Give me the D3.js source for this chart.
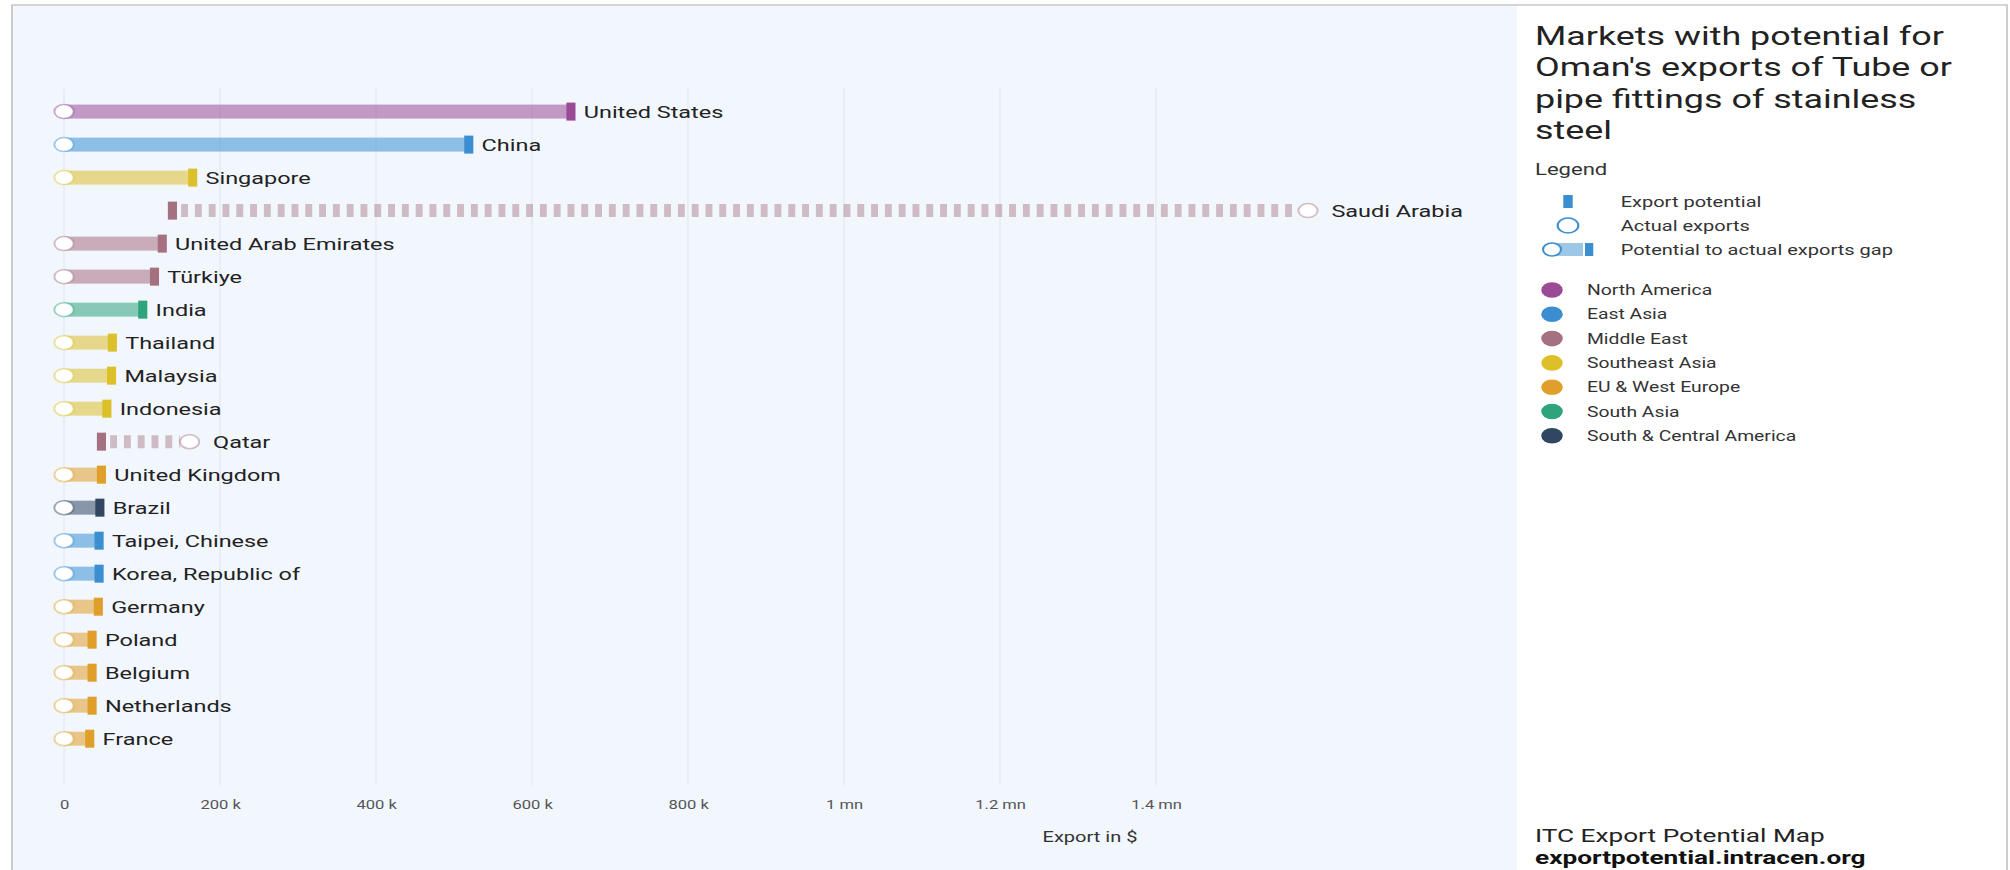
<!DOCTYPE html>
<html><head><meta charset="utf-8">
<script src="https://cdn.jsdelivr.net/npm/d3@7"></script>
<style>html,body{margin:0;padding:0;background:#fff;overflow:hidden} svg{display:block} text{font-family:Roboto, "Noto Sans", sans-serif}</style>
</head><body>
<svg id="chart" width="2010" height="870"></svg>
<script>
// ---- data ----
const countries = ["United States","China","Singapore","Saudi Arabia","United Arab Emirates","Türkiye","India","Thailand","Malaysia","Indonesia","Qatar","United Kingdom","Brazil","Taipei, Chinese","Korea, Republic of","Germany","Poland","Belgium","Netherlands","France"];
const countryRegions = ["North America","East Asia","Southeast Asia","Middle East","Middle East","Middle East","South Asia","Southeast Asia","Southeast Asia","Southeast Asia","Middle East","EU & West Europe","South & Central America","East Asia","East Asia","EU & West Europe","EU & West Europe","EU & West Europe","EU & West Europe","EU & West Europe"];
const potentialValues = [650000,519000,165000,139000,126000,116000,101000,62000,61000,55000,48000,48000,46000,45000,45000,44000,36000,36000,36000,33000];
const actualValues = [0,0,0,1595000,0,0,0,0,0,0,161000,0,0,0,0,0,0,0,0,0];
const regionNames = ["North America","East Asia","Middle East","Southeast Asia","EU & West Europe","South Asia","South & Central America"];
const regionColors = ["#9b4a96","#3b8fd0","#a5707f","#dcc02a","#e09f2a","#2ea47a","#2f4761"];
const tickValues = [0,200000,400000,600000,800000,1000000,1200000,1400000];
const tickLabels = ["0","200 k","400 k","600 k","800 k","1 mn","1.2 mn","1.4 mn"];
const titleLines = ["Markets with potential for","Oman's exports of Tube or","pipe fittings of stainless","steel"];
const legendItems = ["Export potential","Actual exports","Potential to actual exports gap"];

// ---- layout (inner coordinates; the page is stretched horizontally) ----
const S = 1.38, W = 2010 / S, H = 870;
const svg = d3.select("#chart").attr("viewBox", `0 0 ${W} ${H}`).attr("preserveAspectRatio", "none");
const color = d3.scaleOrdinal().domain(regionNames).range(regionColors);
const x = d3.scaleLinear().domain([0, d3.max(actualValues)]).range([64 / S, 1308 / S]);
const y = d3.scalePoint().domain(countries).range([111.6, 738.7]);

// backgrounds
svg.append("rect").attr("x", 12 / S).attr("y", 5).attr("width", (1517 - 12) / S).attr("height", H).attr("fill", "#f2f7fe");
svg.append("path").attr("d", `M${12 / S},${H} V5 H${2007 / S} V${H}`).attr("fill", "none").attr("stroke", "#c8c8c8").attr("stroke-width", 1.3);

// grid
const g = svg.append("g");
g.selectAll("line.grid").data(tickValues).join("line")
  .attr("x1", d => x(d)).attr("x2", d => x(d)).attr("y1", 88).attr("y2", 785)
  .attr("stroke", "#e2e7ee").attr("stroke-width", 0.8);

// axis labels
const axis = d3.axisBottom(x).tickValues(tickValues).tickFormat((d, i) => tickLabels[i]).tickSize(0);
const ax = svg.append("g").attr("transform", "translate(0,797)").call(axis);
ax.select(".domain").remove();
ax.selectAll("text").attr("font-size", 12).attr("fill", "#555").attr("font-family", "Roboto");
svg.append("text").attr("x", 1090 / S).attr("y", 842).attr("text-anchor", "middle")
  .attr("font-size", 14.5).attr("fill", "#333").text("Export in $");

// rows
const rows = countries.map((c, i) => ({ c, region: countryRegions[i], pot: potentialValues[i], act: actualValues[i] }));
const mw = 6.6, mh = 18, bh = 14, cr = 7;
rows.forEach(d => {
  const col = color(d.region);
  const yy = y(d.c);
  const row = g.append("g");
  const xp = x(d.pot), xa = x(d.act);
  if (d.act <= d.pot) {
    row.append("rect").attr("x", xa).attr("y", yy - bh / 2).attr("width", xp - xa).attr("height", bh)
      .attr("fill", col).attr("fill-opacity", 0.55);
  } else {
    row.append("line").attr("x1", xp + mw / 2 + 3).attr("x2", xa - cr).attr("y1", yy).attr("y2", yy)
      .attr("stroke", col).attr("stroke-opacity", 0.45).attr("stroke-width", 13).attr("stroke-dasharray", "5,5");
  }
  row.append("rect").attr("x", xp - mw / 2).attr("y", yy - mh / 2).attr("width", mw).attr("height", mh).attr("fill", col);
  row.append("circle").attr("cx", xa).attr("cy", yy).attr("r", cr)
    .attr("fill", "#fff").attr("stroke", col).attr("stroke-opacity", 0.45).attr("stroke-width", 1.5);
  const lx = d.act > d.pot ? xa + cr + 10 : xp + mw / 2 + 6;
  row.append("text").attr("x", lx).attr("y", yy).attr("dy", "0.36em").attr("font-size", 17).attr("fill", "#222").text(d.c);
});

// title & legend
const lx0 = 1535 / S;
svg.selectAll("text.title").data(titleLines).join("text")
  .attr("x", lx0).attr("y", (d, i) => 45 + i * 31.3).attr("font-size", 26).attr("fill", "#222").text(d => d);
svg.append("text").attr("x", lx0).attr("y", 175).attr("font-size", 16).attr("fill", "#333").text("Legend");

const blue = color("East Asia");
const ly = [201.5, 225.5, 249.5];
svg.append("rect").attr("x", 1568 / S - 3.4).attr("y", ly[0] - 6.5).attr("width", 6.8).attr("height", 13).attr("fill", blue);
svg.append("circle").attr("cx", 1568 / S).attr("cy", ly[1]).attr("r", 7.5).attr("fill", "#fff").attr("stroke", blue).attr("stroke-width", 1.5);
svg.append("rect").attr("x", 1552 / S).attr("y", ly[2] - 6.5).attr("width", (1583 - 1552) / S).attr("height", 13).attr("fill", blue).attr("fill-opacity", 0.5);
svg.append("rect").attr("x", 1585 / S).attr("y", ly[2] - 6.5).attr("width", 6).attr("height", 13).attr("fill", blue);
svg.append("circle").attr("cx", 1552 / S).attr("cy", ly[2]).attr("r", 6.5).attr("fill", "#fff").attr("stroke", blue).attr("stroke-width", 1.5);
svg.selectAll("text.li").data(legendItems).join("text")
  .attr("x", 1620.7 / S).attr("y", (d, i) => ly[i]).attr("dy", "0.36em").attr("font-size", 14.5).attr("fill", "#333").text(d => d);

const rg = svg.selectAll("g.reg").data(regionNames).join("g")
  .attr("transform", (d, i) => `translate(0,${290 + i * 24.3})`);
rg.append("circle").attr("cx", 1552 / S).attr("cy", 0).attr("r", 7.8).attr("fill", d => color(d));
rg.append("text").attr("x", 1587 / S).attr("y", 0).attr("dy", "0.36em").attr("font-size", 14).attr("fill", "#333").text(d => d);

svg.append("text").attr("x", lx0).attr("y", 842).attr("font-size", 19).attr("fill", "#222").text("ITC Export Potential Map");
svg.append("text").attr("x", lx0).attr("y", 864).attr("font-size", 19).attr("font-weight", "bold").attr("fill", "#111").text("exportpotential.intracen.org");
</script>
</body></html>
